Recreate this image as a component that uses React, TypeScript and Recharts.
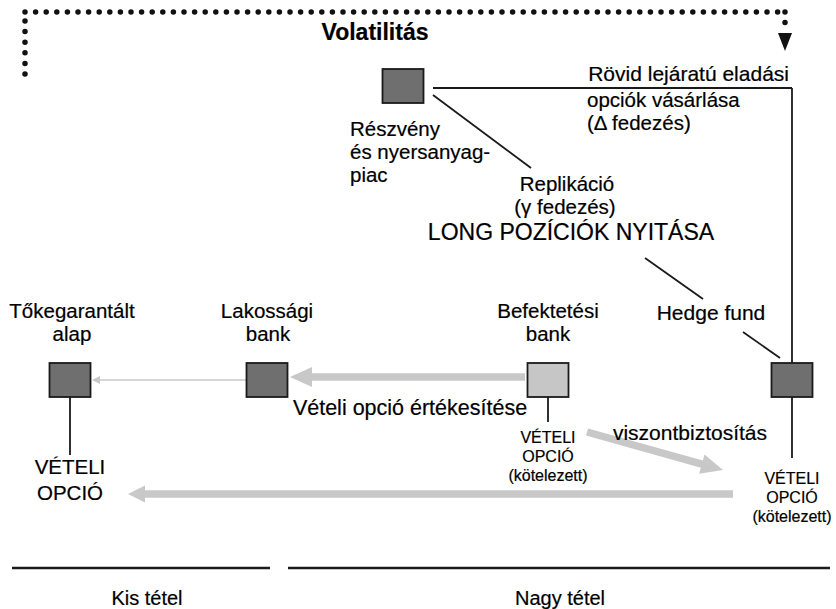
import { ScatterChart, Scatter, XAxis, YAxis, ReferenceLine } from 'recharts'

// diagram coordinates live in a 836 x 609 data space
const boxes = [
  { id: 'reszveny', x: 403, y: 86, fill: '#6f6f6f' },
  { id: 'toke', x: 70, y: 380, fill: '#6f6f6f' },
  { id: 'lakossagi', x: 267, y: 380, fill: '#6f6f6f' },
  { id: 'befektetesi', x: 548, y: 380, fill: '#c6c6c6' },
  { id: 'hedge', x: 792, y: 380, fill: '#6f6f6f' },
]

const links = [
  [[433, 88], [792, 88]],
  [[792, 88], [792, 363]],
  [[433, 95], [531, 168]],
  [[645, 258], [703, 299]],
  [[743, 332], [780, 358]],
  [[792, 397], [792, 458]],
  [[70, 397], [70, 455]],
  [[548, 397], [548, 422]],
]

const baseLines = [
  [[12, 568], [270, 568]],
  [[288, 568], [830, 568]],
]

const dotted = [
  [[25, 74], [25, 12]],
  [[25, 12], [785, 12]],
  [[785, 12], [785, 24]],
]

const arrows = [
  { from: [785, 33], to: [785, 51], kind: 'black' },
  { from: [247, 380], to: [92, 380], kind: 'thin' },
  { from: [525, 377], to: [290, 377], kind: 'thick' },
  { from: [587, 432], to: [723, 470], kind: 'thick' },
  { from: [733, 494], to: [128, 494], kind: 'thickSmall' },
]

const labels = [
  { t: 'Volatilitás', x: 375, y: 40, a: 'middle', s: 23, w: 700 },
  { t: 'Rövid lejáratú eladási', x: 789, y: 81, a: 'end', s: 21 },
  { t: 'opciók vásárlása', x: 587, y: 107, a: 'start', s: 20.5 },
  { t: '(Δ fedezés)', x: 587, y: 130, a: 'start', s: 20.5 },
  { t: 'Részvény', x: 350, y: 136, a: 'start', s: 20.5 },
  { t: 'és nyersanyag-', x: 350, y: 159, a: 'start', s: 20.5 },
  { t: 'piac', x: 350, y: 182, a: 'start', s: 20.5 },
  { t: 'Replikáció', x: 567, y: 191, a: 'middle', s: 20.5 },
  { t: '(γ fedezés)', x: 565, y: 214, a: 'middle', s: 20.5 },
  { t: 'LONG POZÍCIÓK NYITÁSA', x: 571, y: 240, a: 'middle', s: 23 },
  { t: 'Tőkegarantált', x: 72, y: 318, a: 'middle', s: 20.5 },
  { t: 'alap', x: 72, y: 341, a: 'middle', s: 20.5 },
  { t: 'Lakossági', x: 267, y: 318, a: 'middle', s: 20.5 },
  { t: 'bank', x: 268, y: 341, a: 'middle', s: 20.5 },
  { t: 'Befektetési', x: 548, y: 318, a: 'middle', s: 20.5 },
  { t: 'bank', x: 548, y: 341, a: 'middle', s: 20.5 },
  { t: 'Hedge fund', x: 711, y: 320, a: 'middle', s: 21 },
  { t: 'Vételi opció értékesítése', x: 410, y: 415, a: 'middle', s: 21.5 },
  { t: 'VÉTELI', x: 548, y: 443, a: 'middle', s: 16 },
  { t: 'OPCIÓ', x: 548, y: 462, a: 'middle', s: 16 },
  { t: '(kötelezett)', x: 548, y: 481, a: 'middle', s: 16 },
  { t: 'viszontbiztosítás', x: 690, y: 440, a: 'middle', s: 21 },
  { t: 'VÉTELI', x: 792, y: 484, a: 'middle', s: 16 },
  { t: 'OPCIÓ', x: 792, y: 503, a: 'middle', s: 16 },
  { t: '(kötelezett)', x: 792, y: 522, a: 'middle', s: 16 },
  { t: 'VÉTELI', x: 70, y: 474, a: 'middle', s: 20.5 },
  { t: 'OPCIÓ', x: 70, y: 500, a: 'middle', s: 20.5 },
  { t: 'Kis tétel', x: 147, y: 605, a: 'middle', s: 20 },
  { t: 'Nagy tétel', x: 560, y: 605, a: 'middle', s: 20 },
]

const FONT = '"Liberation Sans", Arial, sans-serif'

const arrowStyle: Record<string, { color: string; body: number; len: number; half: number }> = {
  black: { color: '#111', body: 0, len: 18, half: 7 },
  thin: { color: '#c8c8c8', body: 1.5, len: 8, half: 4 },
  thick: { color: '#c8c8c8', body: 7.5, len: 22, half: 10 },
  thickSmall: { color: '#c8c8c8', body: 7.5, len: 17, half: 8.5 },
}

const seg = (p: number[][]) => [{ x: p[0][0], y: p[0][1] }, { x: p[1][0], y: p[1][1] }]

function ArrowShape(props: any) {
  const { x1, y1, x2, y2, kind } = props
  const st = arrowStyle[kind]
  const dx = x2 - x1
  const dy = y2 - y1
  const d = Math.sqrt(dx * dx + dy * dy) || 1
  const ux = dx / d
  const uy = dy / d
  const bx = x2 - ux * st.len
  const by = y2 - uy * st.len
  const pts = [
    [x2, y2],
    [bx - uy * st.half, by + ux * st.half],
    [bx + uy * st.half, by - ux * st.half],
  ]
  return (
    <g>
      {st.body > 0 && (
        <line x1={x1} y1={y1} x2={bx + ux} y2={by + uy} stroke={st.color} strokeWidth={st.body} />
      )}
      <polygon points={pts.map(q => q.join(',')).join(' ')} fill={st.color} />
    </g>
  )
}

function BoxShape(props: any) {
  const { cx, cy, payload } = props
  return <rect x={cx - 20.5} y={cy - 17} width={41} height={34} fill={payload.fill} stroke="#1a1a1a" strokeWidth={1.8} />
}

function LabelShape(props: any) {
  const { cx, cy, payload } = props
  return (
    <text
      x={cx}
      y={cy}
      textAnchor={payload.a}
      fontSize={payload.s}
      fontWeight={payload.w || 400}
      fontFamily={FONT}
      fill="#000"
      stroke="#000"
      strokeWidth={0.2}
    >
      {payload.t}
    </text>
  )
}

export default function App() {
  return (
    <div style={{ position: 'absolute', left: 0, top: 0, background: '#fff' }}>
      <ScatterChart width={836} height={609} margin={{ top: 0, right: 0, bottom: 0, left: 0 }}>
        <XAxis type="number" dataKey="x" domain={[0, 836]} hide />
        <YAxis type="number" dataKey="y" domain={[0, 609]} reversed hide />
        {dotted.map((p, i) => (
          <ReferenceLine key={'d' + i} segment={seg(p)} stroke="#111" strokeWidth={5.5} strokeDasharray="0 10.6" strokeLinecap="round" ifOverflow="visible" />
        ))}
        {links.map((p, i) => (
          <ReferenceLine key={'l' + i} segment={seg(p)} stroke="#1a1a1a" strokeWidth={1.8} ifOverflow="visible" />
        ))}
        {baseLines.map((p, i) => (
          <ReferenceLine key={'b' + i} segment={seg(p)} stroke="#1a1a1a" strokeWidth={2.5} ifOverflow="visible" />
        ))}
        {arrows.map((a, i) => (
          <ReferenceLine
            key={'a' + i}
            segment={seg([a.from, a.to])}
            ifOverflow="visible"
            shape={(p: any) => <ArrowShape {...p} kind={a.kind} />}
          />
        ))}
        <Scatter data={boxes} shape={BoxShape} isAnimationActive={false} />
        <Scatter data={labels} shape={LabelShape} isAnimationActive={false} />
      </ScatterChart>
    </div>
  )
}
